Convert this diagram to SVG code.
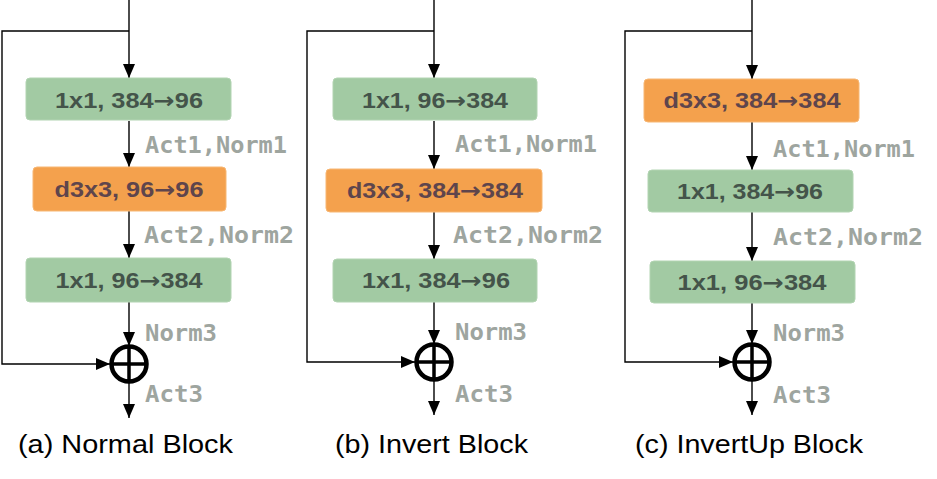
<svg xmlns="http://www.w3.org/2000/svg" width="937" height="479" viewBox="0 0 937 479">
<style>
.g{fill:#a2caa3;stroke:#b2d4b2;stroke-width:1}
.o{fill:#f4a14d;stroke:#f7b774;stroke-width:1}
.bt{font-family:"Liberation Sans",Arial,sans-serif;font-weight:bold;font-size:22px;text-anchor:middle}
.ar{font-family:"DejaVu Sans",sans-serif;font-weight:bold}
.gt{fill:#44544a}
.ot{fill:#5e454c}
.lbl{font-family:"DejaVu Sans Mono","Liberation Mono",monospace;font-weight:bold;font-size:23px;fill:#9ea59f}
.cap{font-family:"Liberation Sans",Arial,sans-serif;font-size:25px;fill:#000}
.ad{stroke:#000;stroke-width:1.4;fill:none;marker-end:url(#ah)}
.sum{stroke:#000;stroke-width:4.5;fill:#fff}
.cr{stroke:#000;stroke-width:3.5}
</style>
<defs>
<marker id="ah" viewBox="0 0 14 12" refX="14" refY="6" markerWidth="14" markerHeight="12" markerUnits="userSpaceOnUse" orient="auto">
<path d="M0,0 L14,6 L0,12 z" fill="#000"/>
</marker>
</defs>

<g id="connectors">
<path class="ad" d="M129,0 V78"/>
<path class="ad" d="M129,31 H2 V364 H110"/>
<path class="ad" d="M129,121 V167"/>
<path class="ad" d="M129,211 V258"/>
<path class="ad" d="M129,302 V346"/>
<path class="ad" d="M129,382 V418"/>
<path class="ad" d="M434,0 V78"/>
<path class="ad" d="M434,31 H307 V362 H415"/>
<path class="ad" d="M434,121 V169"/>
<path class="ad" d="M434,212 V259"/>
<path class="ad" d="M434,302 V344"/>
<path class="ad" d="M434,380 V415"/>
<path class="ad" d="M752,0 V79"/>
<path class="ad" d="M752,31 H625 V362 H733"/>
<path class="ad" d="M752,122 V170"/>
<path class="ad" d="M752,212 V261"/>
<path class="ad" d="M752,303 V344"/>
<path class="ad" d="M752,380 V415"/>
</g>

<g id="a-conv1"><rect class="g" x="26" y="78" width="205" height="42" rx="4"/><text class="bt gt" x="129" y="108" textLength="148" lengthAdjust="spacingAndGlyphs">1x1, 384<tspan class="ar">→</tspan>96</text></g>
<g id="a-dconv"><rect class="o" x="33" y="167" width="193" height="44" rx="4"/><text class="bt ot" x="129" y="197" textLength="149" lengthAdjust="spacingAndGlyphs">d3x3, 96<tspan class="ar">→</tspan>96</text></g>
<g id="a-conv2"><rect class="g" x="26" y="258" width="205" height="44" rx="4"/><text class="bt gt" x="129" y="288" textLength="147" lengthAdjust="spacingAndGlyphs">1x1, 96<tspan class="ar">→</tspan>384</text></g>
<g id="a-sum"><circle class="sum" cx="129" cy="364" r="17.5"/><path class="cr" d="M129,346 V382 M111,364 H147"/></g>
<g id="a-labels">
<text class="lbl" x="145" y="153" textLength="142" lengthAdjust="spacingAndGlyphs">Act1,Norm1</text>
<text class="lbl" x="144" y="243" textLength="150" lengthAdjust="spacingAndGlyphs">Act2,Norm2</text>
<text class="lbl" x="145" y="341" textLength="72" lengthAdjust="spacingAndGlyphs">Norm3</text>
<text class="lbl" x="145" y="402" textLength="58" lengthAdjust="spacingAndGlyphs">Act3</text>
<text class="cap" x="18" y="453" textLength="215" lengthAdjust="spacingAndGlyphs">(a) Normal Block</text>
</g>

<g id="b-conv1"><rect class="g" x="333" y="78" width="204" height="42" rx="4"/><text class="bt gt" x="435" y="108" textLength="146" lengthAdjust="spacingAndGlyphs">1x1, 96<tspan class="ar">→</tspan>384</text></g>
<g id="b-dconv"><rect class="o" x="326" y="169" width="216" height="43" rx="4"/><text class="bt ot" x="435" y="198" textLength="176" lengthAdjust="spacingAndGlyphs">d3x3, 384<tspan class="ar">→</tspan>384</text></g>
<g id="b-conv2"><rect class="g" x="333" y="259" width="204" height="43" rx="4"/><text class="bt gt" x="436" y="288" textLength="148" lengthAdjust="spacingAndGlyphs">1x1, 384<tspan class="ar">→</tspan>96</text></g>
<g id="b-sum"><circle class="sum" cx="434" cy="362" r="17.5"/><path class="cr" d="M434,344 V380 M416,362 H452"/></g>
<g id="b-labels">
<text class="lbl" x="455" y="152" textLength="142" lengthAdjust="spacingAndGlyphs">Act1,Norm1</text>
<text class="lbl" x="453" y="243" textLength="150" lengthAdjust="spacingAndGlyphs">Act2,Norm2</text>
<text class="lbl" x="455" y="340" textLength="72" lengthAdjust="spacingAndGlyphs">Norm3</text>
<text class="lbl" x="455" y="402" textLength="58" lengthAdjust="spacingAndGlyphs">Act3</text>
<text class="cap" x="335" y="453" textLength="193" lengthAdjust="spacingAndGlyphs">(b) Invert Block</text>
</g>

<g id="c-dconv"><rect class="o" x="644" y="79" width="215" height="43" rx="4"/><text class="bt ot" x="752" y="108" textLength="177" lengthAdjust="spacingAndGlyphs">d3x3, 384<tspan class="ar">→</tspan>384</text></g>
<g id="c-conv1"><rect class="g" x="648" y="170" width="205" height="42" rx="4"/><text class="bt gt" x="750" y="199" textLength="146" lengthAdjust="spacingAndGlyphs">1x1, 384<tspan class="ar">→</tspan>96</text></g>
<g id="c-conv2"><rect class="g" x="650" y="261" width="205" height="42" rx="4"/><text class="bt gt" x="752" y="290" textLength="149" lengthAdjust="spacingAndGlyphs">1x1, 96<tspan class="ar">→</tspan>384</text></g>
<g id="c-sum"><circle class="sum" cx="752" cy="362" r="17.5"/><path class="cr" d="M752,344 V380 M734,362 H770"/></g>
<g id="c-labels">
<text class="lbl" x="773" y="157" textLength="142" lengthAdjust="spacingAndGlyphs">Act1,Norm1</text>
<text class="lbl" x="773" y="245" textLength="150" lengthAdjust="spacingAndGlyphs">Act2,Norm2</text>
<text class="lbl" x="773" y="341" textLength="72" lengthAdjust="spacingAndGlyphs">Norm3</text>
<text class="lbl" x="773" y="403" textLength="58" lengthAdjust="spacingAndGlyphs">Act3</text>
<text class="cap" x="635" y="453" textLength="228" lengthAdjust="spacingAndGlyphs">(c) InvertUp Block</text>
</g>
</svg>
